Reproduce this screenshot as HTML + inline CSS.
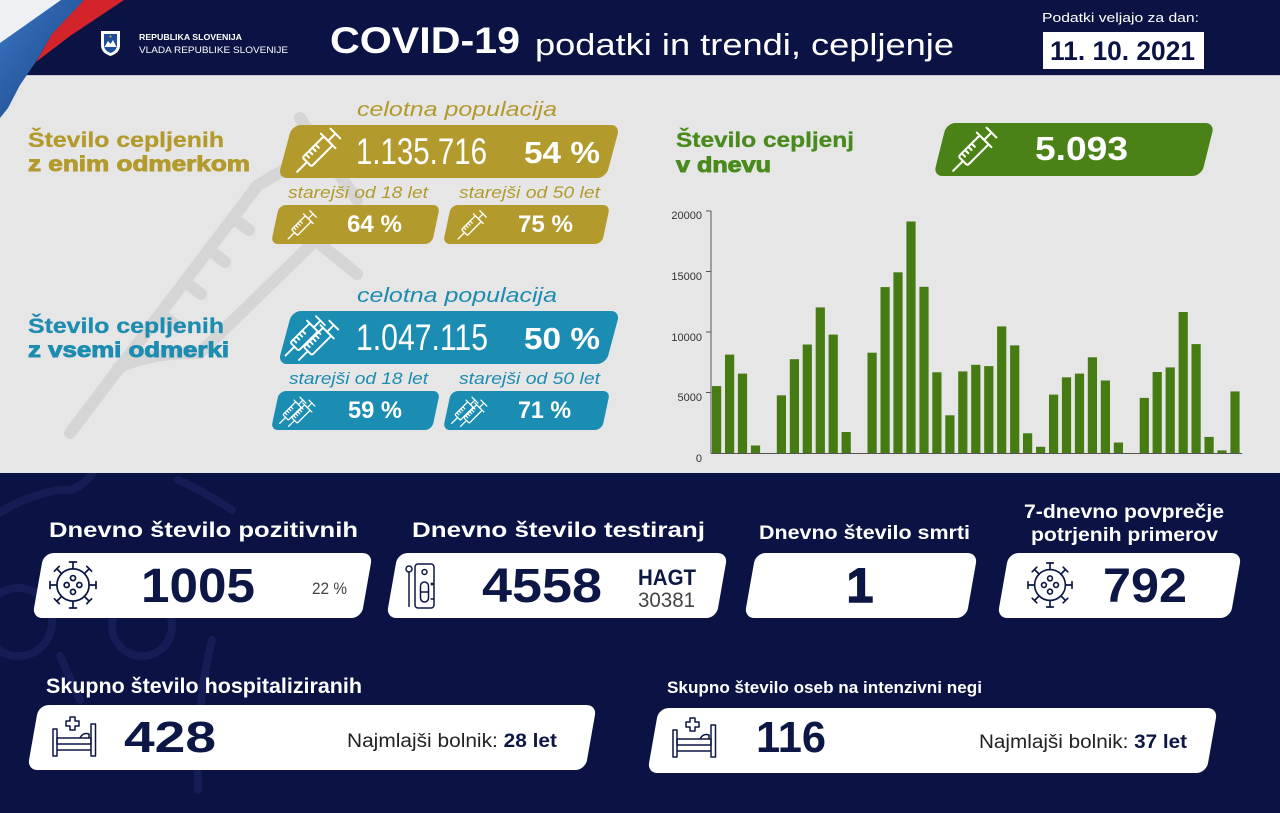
<!DOCTYPE html>
<html><head><meta charset="utf-8"><style>
html,body{margin:0;padding:0;background:#0b1344;}
svg{display:block;}
</style></head><body>
<svg width="1280" height="813" viewBox="0 0 1280 813" xmlns="http://www.w3.org/2000/svg" font-family="'Liberation Sans', Arial, sans-serif">
<defs>
<linearGradient id="bl" x1="0" y1="0" x2="1" y2="1"><stop offset="0" stop-color="#3a76c4"/><stop offset="1" stop-color="#17407f"/></linearGradient>
<clipPath id="gp"><rect x="0" y="76" width="640" height="397"/></clipPath>
<clipPath id="np"><rect x="0" y="473" width="640" height="340"/></clipPath>
<g id="syr" fill="none" stroke="#fff" stroke-width="1.8" stroke-linecap="round" stroke-linejoin="round">
<line x1="-28" y1="0" x2="-16" y2="0"/>
<rect x="-16" y="-5.5" width="26" height="11" rx="1.5"/>
<line x1="10" y1="-9" x2="10" y2="9"/>
<line x1="10" y1="0" x2="19" y2="0"/>
<line x1="19" y1="-6" x2="19" y2="6"/>
<path d="M-12,-5.5v4 M-8,-5.5v4 M-4,-5.5v4 M0,-5.5v4"/>
</g>
<g id="dsyr"><use href="#syr" transform="translate(-3,-6)"/><use href="#syr" transform="translate(3,6)"/></g>
<g id="vir" fill="none" stroke="#0d1745" stroke-width="1.5" stroke-linecap="round">
<circle r="14"/>
<path d="M14,0H20M20,-3V3 M9.9,9.9L14.1,14.1M16.2,12L12,16.2 M0,14V20M-3,20H3 M-9.9,9.9L-14.1,14.1M-12,16.2L-16.2,12 M-14,0H-20M-20,-3V3 M-9.9,-9.9L-14.1,-14.1M-16.2,-12L-12,-16.2 M0,-14V-20M-3,-20H3 M9.9,-9.9L14.1,-14.1M12,-16.2L16.2,-12"/>
<circle cx="0" cy="-6" r="2.2"/><circle cx="-5.5" cy="0" r="2.2"/><circle cx="5.5" cy="0" r="2.2"/><circle cx="0" cy="6" r="2.2"/>
</g>
<g id="bed" fill="none" stroke="#0d1745" stroke-width="1.5" stroke-linejoin="round">
<rect x="0" y="12" width="4" height="27"/>
<rect x="38" y="7" width="4.5" height="32"/>
<rect x="4" y="21" width="34" height="6"/>
<line x1="4" y1="33" x2="38" y2="33"/>
<path d="M27,21 q3,-6 9,-4 v4"/>
<path d="M17,0h5v4h4v5h-4v4h-5v-4h-4v-5h4z"/>
</g>
</defs>

<!-- backgrounds -->
<rect width="1280" height="813" fill="#0b1344"/>
<rect x="0" y="75" width="1280" height="398" fill="#e6e6e6"/>
<line x1="0" y1="75.5" x2="1280" y2="75.5" stroke="#c9ccd6" stroke-width="1"/>

<!-- grey watermark syringe -->
<g clip-path="url(#gp)" fill="none" stroke="#d5d5d5" stroke-width="12" stroke-linecap="round" stroke-linejoin="round">
<line x1="70" y1="433" x2="257" y2="186"/>
<path d="M118,368 Q150,352 200,353"/>
<line x1="200" y1="353" x2="320" y2="236"/>
<line x1="160.6" y1="313.5" x2="177" y2="326"/>
<line x1="184.8" y1="281.6" x2="201" y2="294"/>
<line x1="208.9" y1="249.7" x2="225" y2="262"/>
<line x1="233" y1="218" x2="249" y2="230"/>
<line x1="300" y1="118" x2="357" y2="200"/>
<line x1="310" y1="236" x2="357" y2="274"/>
<line x1="257" y1="186" x2="300" y2="160"/>
</g>

<!-- navy watermark -->
<g clip-path="url(#np)" fill="none" stroke="#141d55" stroke-width="8" stroke-linecap="round">
<path d="M-5,515 Q40,488 72,490 Q88,482 96,468"/>
<path d="M178,480 Q205,492 232,510"/>
<circle cx="18" cy="622" r="34"/>
<circle cx="142" cy="626" r="30"/>
<path d="M212,640 Q196,700 198,790"/>
<path d="M60,656 L80,700"/>
</g>

<!-- flag corner -->
<polygon points="0,0 62,0 0,44" fill="#eef0f3"/>
<polygon points="61,0 86,0 52,34 37,60 20,85 8,108 0,118 0,43" fill="url(#bl)"/>
<polygon points="84,0 124,0 70,36 36,62 52,34" fill="#d3242c"/>

<!-- logo -->
<path d="M101,31 H120 V45 Q120,53 110.5,56 Q101,53 101,45 Z" fill="#fff"/>
<path d="M104,34 H117 V45 Q117,50.5 110.5,53 Q104,50.5 104,45 Z" fill="#1d4f9a"/>
<path d="M104.5,47 L108,41 L110.5,44 L113,40 L116.5,47 Z" fill="#fff"/>
<circle cx="110.5" cy="36.5" r="1" fill="#f3c900"/>

<!-- header text -->
<text x="139" y="40" font-size="8.5" font-weight="bold" fill="#fff" textLength="103" lengthAdjust="spacingAndGlyphs">REPUBLIKA SLOVENIJA</text>
<text x="139" y="53" font-size="9" fill="#fff" textLength="149" lengthAdjust="spacingAndGlyphs">VLADA REPUBLIKE SLOVENIJE</text>
<text x="330" y="53" font-size="37" font-weight="bold" fill="#fff" textLength="190" lengthAdjust="spacingAndGlyphs">COVID-19</text>
<text x="535" y="55" font-size="31" fill="#fff" textLength="419" lengthAdjust="spacingAndGlyphs">podatki in trendi, cepljenje</text>
<text x="1042" y="22" font-size="13" fill="#fff" textLength="157" lengthAdjust="spacingAndGlyphs">Podatki veljajo za dan:</text>
<rect x="1043" y="32" width="161" height="37" fill="#fff"/>
<text x="1050" y="60" font-size="27" font-weight="bold" fill="#0b1344" textLength="145" lengthAdjust="spacingAndGlyphs">11. 10. 2021</text>

<!-- gold section -->
<g fill="#b39a2d">
<rect x="-164" y="-26.5" width="328" height="53" rx="9" transform="translate(449,151.5) skewX(-15)"/>
<rect x="-80.5" y="-19.5" width="161" height="39" rx="7" transform="translate(355.5,224.5) skewX(-12)"/>
<rect x="-79.5" y="-19.5" width="159" height="39" rx="7" transform="translate(526.5,224.5) skewX(-12)"/>
</g>
<g fill="#b39a2d" stroke="#b39a2d">
<text x="28" y="147" font-size="21" font-weight="bold" stroke-width="0.3" textLength="196" lengthAdjust="spacingAndGlyphs">Število cepljenih</text>
<text x="28" y="171" font-size="21" font-weight="bold" stroke-width="0.9" textLength="222" lengthAdjust="spacingAndGlyphs">z enim odmerkom</text>
<text x="357" y="116" font-size="20" font-style="italic" stroke-width="0" textLength="200" lengthAdjust="spacingAndGlyphs">celotna populacija</text>
<text x="288" y="198" font-size="17" font-style="italic" stroke-width="0" textLength="140" lengthAdjust="spacingAndGlyphs">starejši od 18 let</text>
<text x="459" y="198" font-size="17" font-style="italic" stroke-width="0" textLength="141" lengthAdjust="spacingAndGlyphs">starejši od 50 let</text>
</g>
<use href="#syr" transform="translate(320,149) rotate(-45) scale(1.15)"/>
<use href="#syr" transform="translate(303,224) rotate(-45) scale(0.75)"/>
<use href="#syr" transform="translate(473,224) rotate(-45) scale(0.75)"/>
<g fill="#fff">
<text x="356" y="164" font-size="37" textLength="131" lengthAdjust="spacingAndGlyphs">1.135.716</text>
<text x="524" y="163" font-size="31" font-weight="bold" textLength="76" lengthAdjust="spacingAndGlyphs">54 %</text>
<text x="347" y="232" font-size="24" font-weight="bold" textLength="55" lengthAdjust="spacingAndGlyphs">64 %</text>
<text x="518" y="232" font-size="24" font-weight="bold" textLength="55" lengthAdjust="spacingAndGlyphs">75 %</text>
</g>

<!-- blue section -->
<g fill="#1b8db2">
<rect x="-164" y="-26.5" width="328" height="53" rx="9" transform="translate(449,337.5) skewX(-15)"/>
<rect x="-80.5" y="-19.5" width="161" height="39" rx="7" transform="translate(355.5,410.5) skewX(-12)"/>
<rect x="-79.5" y="-19.5" width="159" height="39" rx="7" transform="translate(526.5,410.5) skewX(-12)"/>
</g>
<g fill="#1d8cb0" stroke="#1d8cb0">
<text x="28" y="333" font-size="21" font-weight="bold" stroke-width="0.3" textLength="196" lengthAdjust="spacingAndGlyphs">Število cepljenih</text>
<text x="28" y="357" font-size="21" font-weight="bold" stroke-width="0.9" textLength="201" lengthAdjust="spacingAndGlyphs">z vsemi odmerki</text>
<text x="357" y="302" font-size="20" font-style="italic" stroke-width="0" textLength="200" lengthAdjust="spacingAndGlyphs">celotna populacija</text>
<text x="289" y="384" font-size="17" font-style="italic" stroke-width="0" textLength="139" lengthAdjust="spacingAndGlyphs">starejši od 18 let</text>
<text x="459" y="384" font-size="17" font-style="italic" stroke-width="0" textLength="141" lengthAdjust="spacingAndGlyphs">starejši od 50 let</text>
</g>
<use href="#dsyr" transform="translate(313,337) rotate(-45) scale(1.05)"/>
<use href="#dsyr" transform="translate(298,411) rotate(-45) scale(0.7)"/>
<use href="#dsyr" transform="translate(470,411) rotate(-45) scale(0.7)"/>
<g fill="#fff">
<text x="356" y="350" font-size="37" textLength="132" lengthAdjust="spacingAndGlyphs">1.047.115</text>
<text x="524" y="349" font-size="31" font-weight="bold" textLength="76" lengthAdjust="spacingAndGlyphs">50 %</text>
<text x="348" y="418" font-size="24" font-weight="bold" textLength="54" lengthAdjust="spacingAndGlyphs">59 %</text>
<text x="518" y="418" font-size="24" font-weight="bold" textLength="53" lengthAdjust="spacingAndGlyphs">71 %</text>
</g>

<!-- green section -->
<g fill="#4a8a1c" stroke="#4a8a1c">
<text x="676" y="147" font-size="21" font-weight="bold" stroke-width="0.3" textLength="178" lengthAdjust="spacingAndGlyphs">Število cepljenj</text>
<text x="676" y="172" font-size="21" font-weight="bold" stroke-width="0.9" textLength="95" lengthAdjust="spacingAndGlyphs">v dnevu</text>
</g>
<rect x="-134" y="-26.5" width="268" height="53" rx="9" fill="#4b8217" transform="translate(1074,149.5) skewX(-14)"/>
<use href="#syr" transform="translate(976,148) rotate(-45) scale(1.15)"/>
<text x="1035" y="160" font-size="33" font-weight="bold" fill="#fff" textLength="93" lengthAdjust="spacingAndGlyphs">5.093</text>

<!-- chart -->
<g fill="#467a12">
<rect x="712.0" y="386.1" width="9.2" height="66.9"/>
<rect x="725.0" y="354.6" width="9.2" height="98.4"/>
<rect x="737.9" y="373.6" width="9.2" height="79.4"/>
<rect x="750.9" y="445.5" width="9.2" height="7.5"/>
<rect x="776.8" y="395.3" width="9.2" height="57.7"/>
<rect x="789.8" y="359.2" width="9.2" height="93.8"/>
<rect x="802.7" y="344.5" width="9.2" height="108.5"/>
<rect x="815.7" y="307.4" width="9.2" height="145.6"/>
<rect x="828.6" y="334.6" width="9.2" height="118.4"/>
<rect x="841.6" y="432.0" width="9.2" height="21.0"/>
<rect x="867.5" y="352.7" width="9.2" height="100.3"/>
<rect x="880.5" y="287.1" width="9.2" height="165.9"/>
<rect x="893.4" y="272.3" width="9.2" height="180.7"/>
<rect x="906.4" y="221.5" width="9.2" height="231.5"/>
<rect x="919.4" y="286.8" width="9.2" height="166.2"/>
<rect x="932.3" y="372.3" width="9.2" height="80.7"/>
<rect x="945.3" y="415.3" width="9.2" height="37.7"/>
<rect x="958.2" y="371.4" width="9.2" height="81.6"/>
<rect x="971.2" y="364.8" width="9.2" height="88.2"/>
<rect x="984.2" y="366.1" width="9.2" height="86.9"/>
<rect x="997.1" y="326.4" width="9.2" height="126.6"/>
<rect x="1010.1" y="345.4" width="9.2" height="107.6"/>
<rect x="1023.0" y="433.3" width="9.2" height="19.7"/>
<rect x="1036.0" y="446.8" width="9.2" height="6.2"/>
<rect x="1049.0" y="394.6" width="9.2" height="58.4"/>
<rect x="1061.9" y="377.3" width="9.2" height="75.7"/>
<rect x="1074.9" y="373.6" width="9.2" height="79.4"/>
<rect x="1087.8" y="357.3" width="9.2" height="95.7"/>
<rect x="1100.8" y="380.5" width="9.2" height="72.5"/>
<rect x="1113.8" y="442.5" width="9.2" height="10.5"/>
<rect x="1139.7" y="397.9" width="9.2" height="55.1"/>
<rect x="1152.6" y="372.0" width="9.2" height="81.0"/>
<rect x="1165.6" y="367.4" width="9.2" height="85.6"/>
<rect x="1178.6" y="312.0" width="9.2" height="141.0"/>
<rect x="1191.5" y="344.1" width="9.2" height="108.9"/>
<rect x="1204.5" y="436.9" width="9.2" height="16.1"/>
<rect x="1217.4" y="450.4" width="9.2" height="2.6"/>
<rect x="1230.4" y="391.4" width="9.2" height="61.6"/>
</g>
<g stroke="#555" stroke-width="1" fill="none">
<line x1="711" y1="211" x2="711" y2="453.5"/>
<line x1="711" y1="453.5" x2="1242" y2="453.5"/>
<path d="M706,211H711 M706,271.5H711 M706,332H711 M706,392.5H711"/>
</g>
<g font-size="11" fill="#333" text-anchor="end">
<text x="702" y="219">20000</text>
<text x="702" y="280">15000</text>
<text x="702" y="341">10000</text>
<text x="702" y="401">5000</text>
<text x="702" y="462">0</text>
</g>

<!-- bottom cards -->
<g fill="#fff">
<rect x="-164.5" y="-32.5" width="329" height="65" rx="10" transform="translate(202.5,585.5) skewX(-10)"/>
<rect x="-165" y="-32.5" width="330" height="65" rx="10" transform="translate(557,585.5) skewX(-10)"/>
<rect x="-111" y="-32.5" width="222" height="65" rx="10" transform="translate(861,585.5) skewX(-10)"/>
<rect x="-116.5" y="-32.5" width="233" height="65" rx="10" transform="translate(1119.5,585.5) skewX(-10)"/>
<rect x="-279" y="-32.5" width="558" height="65" rx="10" transform="translate(312,737.5) skewX(-10)"/>
<rect x="-279.5" y="-32.5" width="559" height="65" rx="10" transform="translate(932.5,740.5) skewX(-10)"/>
</g>
<g fill="#fff" font-weight="bold">
<text x="49" y="537" font-size="21" textLength="309" lengthAdjust="spacingAndGlyphs">Dnevno število pozitivnih</text>
<text x="412" y="537" font-size="21" textLength="293" lengthAdjust="spacingAndGlyphs">Dnevno število testiranj</text>
<text x="759" y="539" font-size="19" textLength="211" lengthAdjust="spacingAndGlyphs">Dnevno število smrti</text>
<text x="1024" y="518" font-size="19" textLength="200" lengthAdjust="spacingAndGlyphs">7-dnevno povprečje</text>
<text x="1031" y="541" font-size="19" textLength="187" lengthAdjust="spacingAndGlyphs">potrjenih primerov</text>
<text x="46" y="693" font-size="21" textLength="316" lengthAdjust="spacingAndGlyphs">Skupno število hospitaliziranih</text>
<text x="667" y="693" font-size="17" textLength="315" lengthAdjust="spacingAndGlyphs">Skupno število oseb na intenzivni negi</text>
</g>
<use href="#vir" transform="translate(73,585) scale(1.15)"/>
<use href="#vir" transform="translate(1050,585) scale(1.1)"/>
<g fill="none" stroke="#0d1745" stroke-width="1.5">
<line x1="409" y1="572" x2="409" y2="607"/>
<circle cx="409" cy="569" r="3"/>
<rect x="415" y="564" width="19" height="44" rx="3"/>
<circle cx="424.5" cy="572" r="2.5"/>
<rect x="420.5" y="582" width="8" height="20" rx="4"/>
<line x1="420.5" y1="592" x2="428.5" y2="592"/>
<path d="M430.5,584h3 M432,582.5v3 M430.5,599h3"/>
</g>
<use href="#bed" transform="translate(53,717)"/>
<use href="#bed" transform="translate(673,718)"/>
<g fill="#0d1745" font-weight="bold">
<text x="141" y="602" font-size="48" textLength="114" lengthAdjust="spacingAndGlyphs">1005</text>
<text x="482" y="602" font-size="48" textLength="120" lengthAdjust="spacingAndGlyphs">4558</text>
<text x="638" y="585" font-size="22" textLength="58" lengthAdjust="spacingAndGlyphs">HAGT</text>
<text x="860" y="602" font-size="48" text-anchor="middle" stroke="#0d1745" stroke-width="1.5">1</text>
<text x="1103" y="602" font-size="48" textLength="84" lengthAdjust="spacingAndGlyphs">792</text>
<text x="124" y="752" font-size="44" textLength="92" lengthAdjust="spacingAndGlyphs">428</text>
<text x="756" y="752" font-size="44" textLength="70" lengthAdjust="spacingAndGlyphs">116</text>
</g>
<g fill="#444">
<text x="312" y="594" font-size="17" textLength="35" lengthAdjust="spacingAndGlyphs">22 %</text>
<text x="638" y="607" font-size="21" textLength="57" lengthAdjust="spacingAndGlyphs">30381</text>
</g>
<g fill="#222" font-size="19">
<text x="347" y="747" textLength="210" lengthAdjust="spacingAndGlyphs">Najmlajši bolnik: <tspan font-weight="bold" fill="#0d1745">28 let</tspan></text>
<text x="979" y="748" textLength="208" lengthAdjust="spacingAndGlyphs">Najmlajši bolnik: <tspan font-weight="bold" fill="#0d1745">37 let</tspan></text>
</g>
</svg>
</body></html>
